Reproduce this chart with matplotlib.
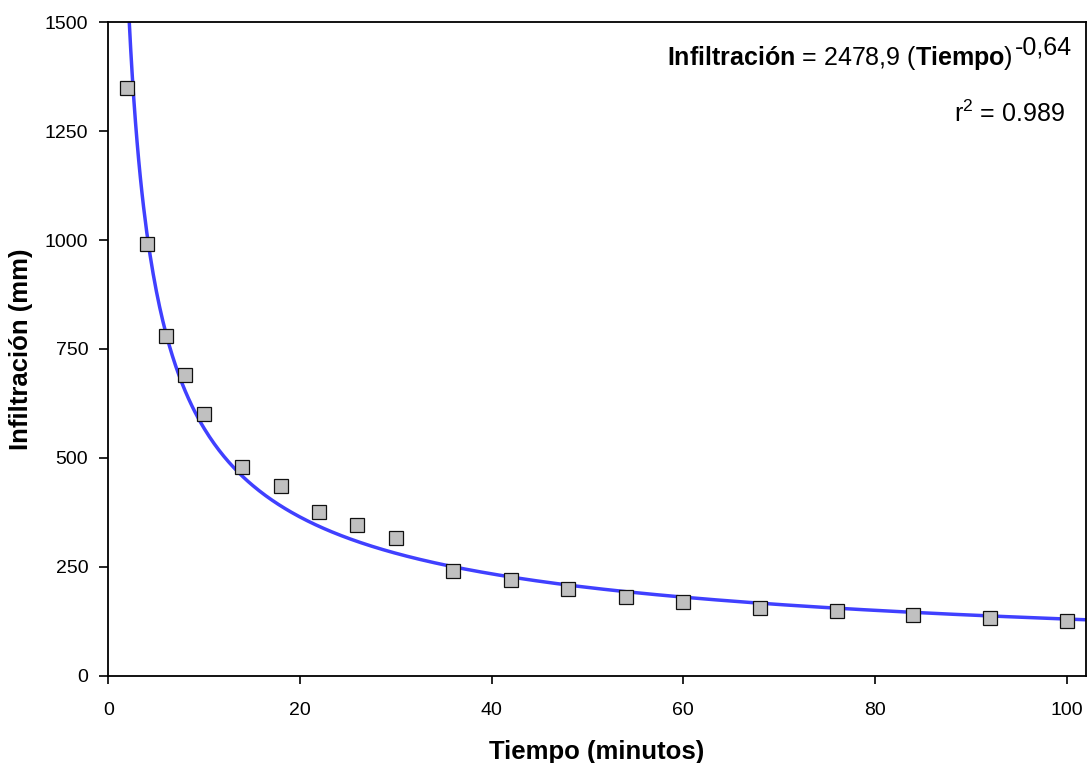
import numpy as np
import matplotlib

matplotlib.use("Agg")
import matplotlib.pyplot as plt

# measured infiltration
tiempo = [2, 4, 6, 8, 10, 14, 18, 22, 26, 30, 36, 42, 48, 54, 60, 68, 76, 84, 92, 100]
infiltracion = [1350, 990, 780, 690, 600, 480, 435, 375, 345, 315,
                240, 220, 200, 180, 170, 155, 148, 140, 132, 125]

# power fit shown on the chart
coef_a = 2478.9
coef_b = -0.64
r2 = 0.989

x_ticks = [0, 20, 40, 60, 80, 100]
y_ticks = [0, 250, 500, 750, 1000, 1250, 1500]

plt.rcParams["font.family"] = ["Liberation Sans", "DejaVu Sans"]
plt.rcParams["mathtext.fontset"] = "custom"
plt.rcParams["mathtext.rm"] = "Liberation Sans"
plt.rcParams["mathtext.bf"] = "Liberation Sans:bold"
plt.rcParams["mathtext.it"] = "Liberation Sans:italic"

fig = plt.figure(figsize=(10.87, 7.63), dpi=100)
ax = fig.add_axes([0.0996, 0.1144, 0.8992, 0.8564])

xs = np.linspace(1.5, 102, 600)
ax.plot(xs, coef_a * xs ** coef_b, color="#4040ff", lw=2.5, zorder=2)
ax.plot(tiempo, infiltracion, ls="none", marker="s", ms=10,
        mfc="#c0c0c0", mec="#111111", mew=0.9, zorder=3)

ax.set_xlim(0, 102)
ax.set_ylim(0, 1500)
ax.set_xticks(x_ticks)
ax.set_yticks(y_ticks)
ax.tick_params(axis="x", direction="out", length=6, width=1.2, pad=13, labelsize=14)
ax.tick_params(axis="y", direction="out", length=6.5, width=1.2, pad=8, labelsize=14)
for sp in ax.spines.values():
    sp.set_linewidth(1.3)

ax.set_xlabel("Tiempo (minutos)", fontsize=18.5, fontweight="bold")
ax.set_ylabel("Infiltración (mm)", fontsize=18.5, fontweight="bold")
ax.xaxis.set_label_coords(0.5, -0.098)
ax.yaxis.set_label_coords(-0.077, 0.5)

# equation: main part plus a full-size raised exponent
eq = r"$\mathbf{Infiltración}$ = " + f"{coef_a:.1f}".replace(".", ",") + r" ($\mathbf{Tiempo}$)"
exp_txt = f"{coef_b:.2f}".replace(".", ",")
ax.text(0.9253, 0.9346, eq, transform=ax.transAxes, ha="right", va="baseline", fontsize=18)
ax.text(0.9274, 0.950, exp_txt, transform=ax.transAxes, ha="left", va="baseline", fontsize=18)
ax.text(0.979, 0.848, r"r$^{2}$ = " + f"{r2:.3f}", transform=ax.transAxes,
        ha="right", va="baseline", fontsize=18)

fig.savefig("out.png", dpi=100)
plt.close(fig)
